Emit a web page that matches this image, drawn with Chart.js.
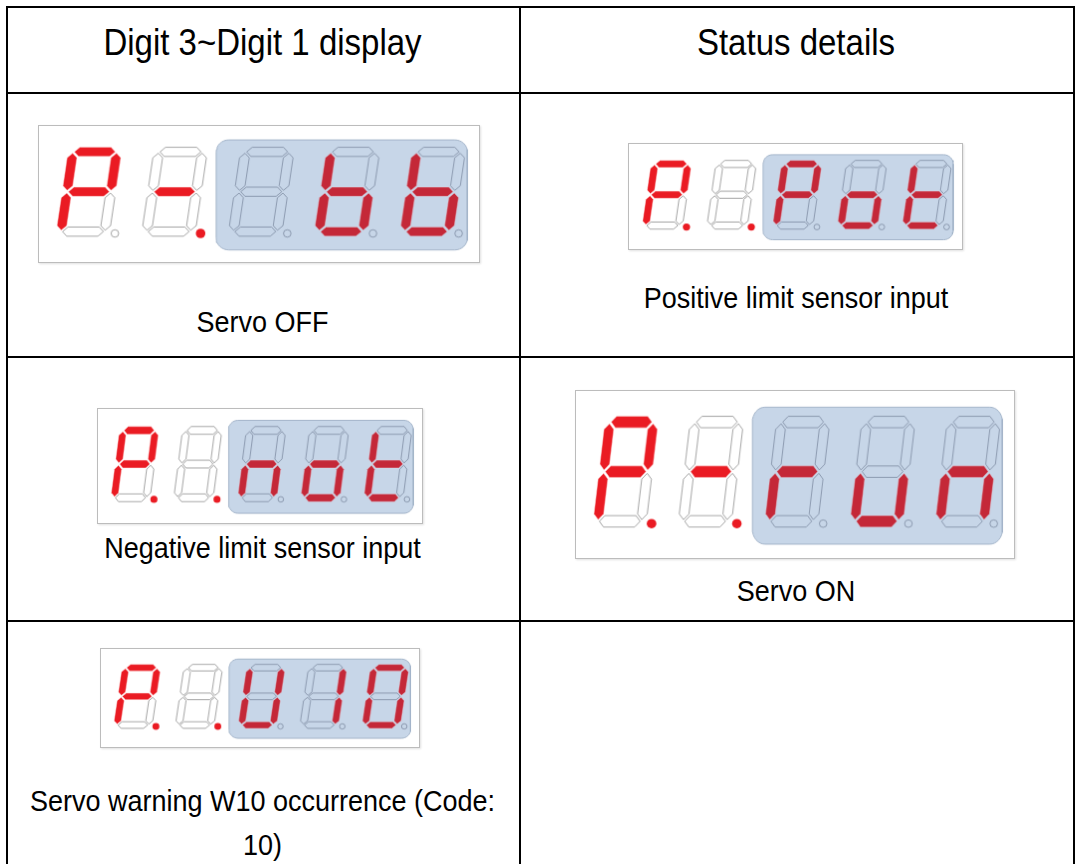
<!DOCTYPE html>
<html>
<head>
<meta charset="utf-8">
<script src="https://cdn.jsdelivr.net/npm/chart.js@4.4.1/dist/chart.umd.min.js"></script>
<style>
  html, body { margin: 0; padding: 0; background: #fff; }
  body { width: 1075px; height: 864px; position: relative; overflow: hidden; font-family: "Liberation Sans", Arial, sans-serif; color: #000; }
  .hl { position: absolute; height: 2px; background: #000; }
  .vl { position: absolute; width: 2px; background: #000; }
  .txt { position: absolute; text-align: center; white-space: nowrap; transform: scaleY(1.1); }
  .hdr { font-size: 33px; }
  .body { font-size: 27px; }
  canvas.disp { position: absolute; background: #fff; border: 1px solid #bcbcbc; box-shadow: 1px 1px 2px rgba(0,0,0,0.12); }
</style>
</head>
<body>
<div id="root"></div>
<script>
// ---------------- DATA ----------------
const headerLabels = ["Digit 3~Digit 1 display", "Status details"];
const statusLabels = ["Servo OFF", "Positive limit sensor input", "Negative limit sensor input", "Servo ON", "Servo warning W10 occurrence (Code:\n10)"];
// characters shown on digit positions (left to right); digits 3..5 sit inside the blue panel
const servoOffChars  = ["P", "-", " ", "b", "b"];
const posLimitChars  = ["P", " ", "P", "o", "t"];
const negLimitChars  = ["P", " ", "n", "o", "t"];
const servoOnChars   = ["P", "-", "r", "u", "n"];
const warningChars   = ["P", " ", "U", "1", "0"];
// decimal point lit (1) / unlit (0)
const servoOffDots = [0, 1, 0, 0, 0];
const posLimitDots = [1, 1, 0, 0, 0];
const negLimitDots = [1, 1, 0, 0, 0];
const servoOnDots  = [1, 1, 0, 0, 0];
const warningDots  = [1, 1, 0, 0, 0];
// segment table for each glyph
const segmentMap = {
  "P": "abefg", "-": "g", " ": "", "b": "cdefg", "o": "cdeg", "t": "defg",
  "n": "ceg", "r": "eg", "u": "cde", "U": "bcdef", "1": "bc", "0": "abcdef"
};

// ---------------- LAYOUT ----------------
const LW = 442, LH = 138;                 // logical size of a display image
const DIG = { w: 55, h: 97, t: 10, g: 1.5, s: 0.14, top: 18 };
const digitLeft = [12, 100, 189, 277, 365];
const PANEL = { x0: 177, x1: 435, y0: 10, y1: 130, r: 13 };
const COLORS = {
  red: "#ea1b23", redPanel: "#c42838", panel: "#c7d6e8", panelBorder: "#a3b4c9",
  offLine: "#8e8e8e", offLinePanel: "#7d8ca2"
};

// table geometry (px)
const T = { left: 6, right: 1073, top: 6, col: 519, rows: [92, 356, 620] };
const cells = [
  { col: 0, box: [38, 125, 442, 138], chars: servoOffChars, dots: servoOffDots, label: 0, ty: 322 },
  { col: 1, box: [628, 143, 335, 107], chars: posLimitChars, dots: posLimitDots, label: 1, ty: 298 },
  { col: 0, box: [97, 408, 326, 116], chars: negLimitChars, dots: negLimitDots, label: 2, ty: 548 },
  { col: 1, box: [575, 390, 440, 169], chars: servoOnChars, dots: servoOnDots, label: 3, ty: 591 },
  { col: 0, box: [100, 648, 320, 100], chars: warningChars, dots: warningDots, label: 4, ty: 801 }
];

const root = document.getElementById("root");
function el(cls, style, text) {
  const d = document.createElement("div");
  d.className = cls;
  Object.assign(d.style, style);
  if (text !== undefined) d.textContent = text;
  root.appendChild(d);
  return d;
}

// table lines
el("vl", { left: T.left + "px", top: T.top + "px", height: (864 - T.top) + "px" });
el("vl", { left: T.col + "px", top: T.top + "px", height: (864 - T.top) + "px" });
el("vl", { left: T.right + "px", top: T.top + "px", height: (864 - T.top) + "px" });
el("hl", { left: T.left + "px", top: T.top + "px", width: (T.right - T.left + 2) + "px" });
T.rows.forEach(y => el("hl", { left: T.left + "px", top: y + "px", width: (T.right - T.left + 2) + "px" }));

const colX = [[T.left, T.col], [T.col, T.right]];
function textBlock(col, cy, lines, cls, lh) {
  const [a, b] = colX[col];
  const top = cy - lh / 2;
  const d = el("txt " + cls, { left: a + "px", width: (b - a) + "px", top: top + "px", lineHeight: lh + "px", transformOrigin: "50% " + (lh / 2) + "px" });
  d.innerHTML = lines.map(s => s.replace(/&/g, "&amp;").replace(/</g, "&lt;")).join("<br>");
  return d;
}
textBlock(0, 43, [headerLabels[0]], "hdr", 40);
textBlock(1, 43, [headerLabels[1]], "hdr", 40);

// ---------------- geometry helpers ----------------
function segPoly(seg, x0) {
  const { w, h, t, g, s, top } = DIG;
  const ht = t / 2;
  const Hs = (yc, xa, xb) => [[xa, yc], [xa + ht, yc - ht], [xb - ht, yc - ht], [xb, yc], [xb - ht, yc + ht], [xa + ht, yc + ht]];
  const Vs = (xc, ya, yb) => [[xc, ya], [xc + ht, ya + ht], [xc + ht, yb - ht], [xc, yb], [xc - ht, yb - ht], [xc - ht, ya + ht]];
  const xl = ht, xr = w - ht, yt = ht, ym = h / 2, yb = h - ht;
  let pts;
  switch (seg) {
    case "a": pts = Hs(yt, xl + g, xr - g); break;
    case "g": pts = Hs(ym, xl + g, xr - g); break;
    case "d": pts = Hs(yb, xl + g, xr - g); break;
    case "f": pts = Vs(xl, yt + g, ym - g); break;
    case "b": pts = Vs(xr, yt + g, ym - g); break;
    case "e": pts = Vs(xl, ym + g, yb - g); break;
    case "c": pts = Vs(xr, ym + g, yb - g); break;
  }
  pts = pts.concat([pts[0]]);
  return pts.map(([u, v]) => ({ x: x0 + u + (h - v) * s, y: top + v }));
}
function roundRectPts(p) {
  const pts = [];
  const arc = (cx, cy, a0, a1) => {
    for (let k = 0; k <= 8; k++) {
      const a = a0 + (a1 - a0) * k / 8;
      pts.push({ x: cx + p.r * Math.cos(a), y: cy + p.r * Math.sin(a) });
    }
  };
  arc(p.x1 - p.r, p.y0 + p.r, -Math.PI / 2, 0);
  arc(p.x1 - p.r, p.y1 - p.r, 0, Math.PI / 2);
  arc(p.x0 + p.r, p.y1 - p.r, Math.PI / 2, Math.PI);
  arc(p.x0 + p.r, p.y0 + p.r, Math.PI, Math.PI * 1.5);
  pts.push(pts[0]);
  return pts;
}

function buildDisplay(cell) {
  const [bx, by, bw, bh] = cell.box;
  const cv = document.createElement("canvas");
  cv.className = "disp";
  cv.width = bw; cv.height = bh;
  Object.assign(cv.style, { left: bx + "px", top: by + "px", width: bw + "px", height: bh + "px" });
  root.appendChild(cv);
  const k = bw / LW;
  const datasets = [];
  datasets.push({
    data: roundRectPts(PANEL), showLine: true, fill: "shape", order: 2,
    backgroundColor: COLORS.panel, borderColor: COLORS.panelBorder, borderWidth: 1, pointRadius: 0
  });
  cell.chars.forEach((ch, i) => {
    const lit = segmentMap[ch] || "";
    const inPanel = i >= 2;
    "abcdefg".split("").forEach(sg => {
      const on = lit.indexOf(sg) >= 0;
      datasets.push({
        data: segPoly(sg, digitLeft[i]), showLine: true, fill: "shape", order: 0, pointRadius: 0,
        backgroundColor: on ? (inPanel ? COLORS.redPanel : COLORS.red) : (inPanel ? "rgba(0,0,0,0)" : "#ffffff"),
        borderColor: on ? (inPanel ? "rgba(230,210,220,0.55)" : "rgba(255,220,220,0.6)") : (inPanel ? COLORS.offLinePanel : COLORS.offLine),
        borderWidth: 0.8
      });
    });
    const dotOn = cell.dots[i] === 1;
    datasets.push({
      data: [{ x: digitLeft[i] + DIG.w + 6, y: DIG.top + DIG.h - 3 }], showLine: false, order: 0,
      pointRadius: (dotOn ? 4.8 : 3.8) * k, pointBorderWidth: dotOn ? 0 : 0.8,
      pointBackgroundColor: dotOn ? COLORS.red : (inPanel ? "rgba(0,0,0,0)" : "#ffffff"),
      pointBorderColor: dotOn ? COLORS.red : (inPanel ? COLORS.offLinePanel : COLORS.offLine)
    });
  });
  new Chart(cv, {
    type: "scatter",
    data: { datasets },
    options: {
      responsive: false, animation: false, events: [],
      layout: { padding: 0 },
      scales: {
        x: { type: "linear", min: 0, max: LW, display: false },
        y: { type: "linear", min: 0, max: LH, reverse: true, display: false }
      },
      plugins: { legend: { display: false }, tooltip: { enabled: false } },
      elements: { line: { tension: 0 }, point: { hoverRadius: 0 } }
    }
  });
}

cells.forEach(c => {
  buildDisplay(c);
  const lines = statusLabels[c.label].split("\n");
  textBlock(c.col, c.ty, lines, "body", lines.length > 1 ? 40 : 36);
});
</script>
</body>
</html>
